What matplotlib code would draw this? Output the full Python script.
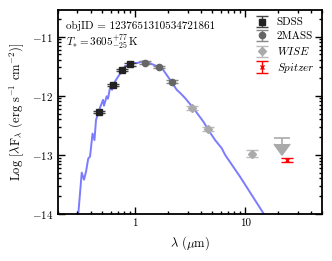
import matplotlib
matplotlib.use("Agg")
import matplotlib.pyplot as plt
import numpy as np
from matplotlib.ticker import FixedLocator, NullFormatter

plt.rcParams['font.family'] = 'serif'
plt.rcParams['font.serif'] = ['cmr10']
plt.rcParams['mathtext.fontset'] = 'cm'
plt.rcParams['axes.formatter.use_mathtext'] = True
plt.rcParams['font.size'] = 8

## DATA (wavelength in micron, log lambda*F_lambda)
sdssWave = [0.474, 0.627, 0.767, 0.906]
sdssFlux = [-12.28, -11.82, -11.57, -11.47]
sdssErr = [0.02, 0.02, 0.02, 0.02]

tmassWave = [1.23, 1.65, 2.16]
tmassFlux = [-11.44, -11.51, -11.76]
tmassErr = [0.02, 0.02, 0.03]

wiseWave = [3.32, 4.58, 11.5]
wiseFlux = [-12.21, -12.56, -12.98]
wiseErr = [0.03, 0.03, 0.06]

# W4 upper limit
limWave = [21.8]
limFlux = [-12.72]
limLen = [0.1]

spitzerWave = [23.9]
spitzerFlux = [-13.09]
spitzerErr = [0.035]

modelWave = [0.305, 0.328, 0.344, 0.359, 0.376, 0.390, 0.411, 0.428, 0.442,
             0.481, 0.512, 0.522, 0.553, 0.568, 0.593, 0.618, 0.658, 0.70,
             0.757, 0.811, 0.869, 0.959, 1.036, 1.18, 1.28, 1.575, 1.75,
             1.875, 2.08, 2.39, 2.56, 2.85, 3.39, 4.18, 4.64, 5.34, 6.14,
             6.58, 9.0, 14.7, 17.0]
modelFlux = [-14.0, -13.30, -13.42, -13.28, -13.06, -13.03, -12.64, -12.75,
             -12.41, -12.20, -12.07, -12.17, -12.01, -12.05, -11.86, -11.90,
             -11.76, -11.68, -11.59, -11.50, -11.49, -11.44, -11.45, -11.42,
             -11.43, -11.50, -11.53, -11.61, -11.73, -11.90, -11.95, -12.04,
             -12.21, -12.44, -12.58, -12.75, -12.89, -13.0, -13.37, -13.99,
             -14.25]

objText = "objID = 1237651310534721861"
tempText = r"$T_{*} = 3605^{+77}_{-25}\,$K"

## PLOT
fig = plt.figure(figsize=(3.32, 2.61), dpi=100)
ax = fig.add_axes([0.175, 0.18, 0.795, 0.782])

ax.plot(modelWave, modelFlux, color="#7b7bff", lw=1.4, zorder=1)

ax.errorbar(sdssWave, sdssFlux, yerr=sdssErr, fmt="s", color="#222222",
            ms=4.5, capsize=4.5, elinewidth=1, capthick=1,
            ecolor="#444444", label="SDSS", zorder=3)
ax.errorbar(tmassWave, tmassFlux, yerr=tmassErr, fmt="o", color="#666666",
            ms=4.5, capsize=4.5, elinewidth=1, capthick=1,
            ecolor="#888888", label="2MASS", zorder=3)
ax.errorbar(wiseWave, wiseFlux, yerr=wiseErr, fmt="D", color="#aaaaaa",
            ms=4, capsize=4.5, elinewidth=1, capthick=1,
            ecolor="#bbbbbb", label=r"$WISE$", zorder=3)
ax.errorbar(limWave, limFlux, yerr=limLen, uplims=True, fmt="none",
            color="#aaaaaa", ecolor="#aaaaaa", capsize=5.5, elinewidth=1.2,
            capthick=1.2, zorder=3)
ax.errorbar(spitzerWave, spitzerFlux, yerr=spitzerErr, fmt="x", color="red",
            ms=3, capsize=4.5, elinewidth=1, capthick=1, label=r"$Spitzer$",
            zorder=3)

ax.set_xscale("log")
ax.set_xlim(0.2, 50)
ax.set_ylim(-14, -10.55)

ax.set_xticks([1, 10])
ax.set_xticklabels(["1", "10"])
ax.xaxis.set_minor_formatter(NullFormatter())

yMajor = [-14, -13, -12, -11]
ax.set_yticks(yMajor)
ax.set_yticklabels([r"$-14$", r"$-13$", r"$-12$", r"$-11$"])
yMinor = [n + np.log10(k) for n in range(-15, -10) for k in range(2, 10)]
ax.yaxis.set_minor_locator(FixedLocator(yMinor))

ax.tick_params(which="both", direction="in", top=True, right=True,
               width=1, labelsize=8)
ax.tick_params(which="major", length=5)
ax.tick_params(which="minor", length=2.5)
for s in ax.spines.values():
    s.set_linewidth(1.3)

ax.set_xlabel(r"$\lambda$ ($\mu$m)", fontsize=9)
ax.set_ylabel(r"Log $[\lambda{\rm F}_\lambda$ (erg s$^{-1}$ cm$^{-2}$)]",
              fontsize=9)

ax.text(0.03, 0.945, objText, transform=ax.transAxes, va="top", fontsize=8)
ax.text(0.03, 0.89, tempText, transform=ax.transAxes, va="top", fontsize=8)

ax.legend(loc="upper right", frameon=False, fontsize=8, handlelength=1.5,
          borderaxespad=0.3, labelspacing=0.35, handletextpad=0.6)

fig.savefig("out.png", dpi=100)
